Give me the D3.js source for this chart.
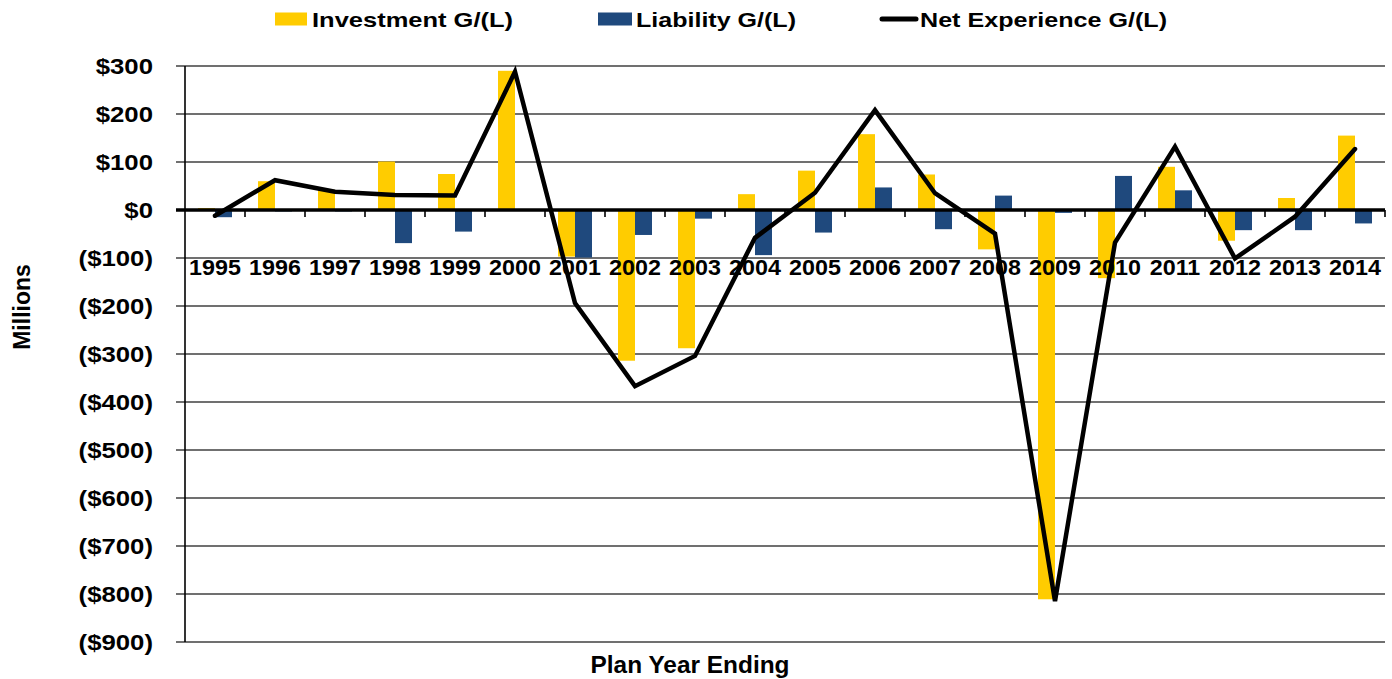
<!DOCTYPE html>
<html>
<head>
<meta charset="utf-8">
<script src="https://cdn.jsdelivr.net/npm/d3@7"></script>
<style>
  body { margin: 0; background: #fff; }
  text { font-family: "Liberation Sans", Arial, sans-serif; font-weight: bold; fill: #000; }
</style>
</head>
<body>
<script>
// Plan year data, in millions
var years = ["1995", "1996", "1997", "1998", "1999", "2000", "2001", "2002", "2003", "2004",
             "2005", "2006", "2007", "2008", "2009", "2010", "2011", "2012", "2013", "2014"]
var investment = [4, 60, 42, 101, 75, 290, -97, -314, -288, 33, 82, 158, 74, -82, -811, -142, 90, -64, 25, 155]
var liability = [-15, -3, -3, -69, -45, -2, -99, -52, -18, -94, -47, 47, -40, 30, -6, 71, 41, -42, -42, -28]
var netExperience = [-12, 62, 38, 31, 30, 288, -194, -367, -304, -58, 36, 208, 35, -49, -815, -68, 132, -101, -14, 127]
var yTicks = [300, 200, 100, 0, -100, -200, -300, -400, -500, -600, -700, -800, -900]
var seriesNames = ["Investment G/(L)", "Liability G/(L)", "Net Experience G/(L)"]

var w = 1392
var h = 679
var yellow = "#FFCC00"
var blue = "#1F497D"

var svg = d3.select("body").append("svg")
  .attr("width", w)
  .attr("height", h)

// Scales
var xScale = d3.scaleBand()
  .domain(years)
  .range([185, 1385])

var barScale = d3.scaleBand()
  .domain(["inv", "liab"])
  .range([0, 34])

var yScale = d3.scaleLinear()
  .domain([-900, 300])
  .range([642, 66])

function money(d) {
  if (d < 0) return "($" + Math.abs(d) + ")"
  return "$" + d
}

// Gridlines with little ticks left of the axis
svg.append("g")
  .selectAll("line")
  .data(yTicks.filter(function(d) { return d != 0 }))
  .enter()
  .append("line")
  .attr("x1", 176)
  .attr("x2", 1385)
  .attr("y1", function(d) { return yScale(d) })
  .attr("y2", function(d) { return yScale(d) })
  .attr("stroke", "#404040")
  .attr("stroke-width", 1.3)

// Y tick labels
svg.append("g")
  .selectAll("text")
  .data(yTicks)
  .enter()
  .append("text")
  .attr("text-anchor", "end")
  .attr("dy", "0.36em")
  .attr("transform", function(d) { return "translate(153," + yScale(d) + ") scale(1.12,1)" })
  .style("font-size", "23px")
  .text(money)

// Bars
var halfBand = xScale.bandwidth() / 2
svg.append("g")
  .selectAll("rect")
  .data(investment)
  .enter()
  .append("rect")
  .attr("x", function(d, i) { return xScale(years[i]) + halfBand - 17 + barScale("inv") })
  .attr("width", barScale.bandwidth())
  .attr("y", function(d) { return yScale(Math.max(0, d)) })
  .attr("height", function(d) { return Math.abs(yScale(d) - yScale(0)) })
  .attr("fill", yellow)

svg.append("g")
  .selectAll("rect")
  .data(liability)
  .enter()
  .append("rect")
  .attr("x", function(d, i) { return xScale(years[i]) + halfBand - 17 + barScale("liab") })
  .attr("width", barScale.bandwidth())
  .attr("y", function(d) { return yScale(Math.max(0, d)) })
  .attr("height", function(d) { return Math.abs(yScale(d) - yScale(0)) })
  .attr("fill", blue)

// Y axis line
svg.append("line")
  .attr("x1", 185).attr("x2", 185)
  .attr("y1", yScale(300)).attr("y2", yScale(-900))
  .attr("stroke", "#000")
  .attr("stroke-width", 1.6)

// Zero line with category ticks
svg.append("line")
  .attr("x1", 176).attr("x2", 1385)
  .attr("y1", yScale(0)).attr("y2", yScale(0))
  .attr("stroke", "#000")
  .attr("stroke-width", 3.5)

svg.append("g")
  .selectAll("line")
  .data(years)
  .enter()
  .append("line")
  .attr("x1", function(d) { return xScale(d) + xScale.bandwidth() })
  .attr("x2", function(d) { return xScale(d) + xScale.bandwidth() })
  .attr("y1", yScale(0))
  .attr("y2", yScale(0) + 7)
  .attr("stroke", "#000")
  .attr("stroke-width", 1.6)

// Year labels
svg.append("g")
  .selectAll("text")
  .data(years)
  .enter()
  .append("text")
  .attr("text-anchor", "middle")
  .attr("transform", function(d) { return "translate(" + (xScale(d) + halfBand) + ",275) scale(1.06,1)" })
  .style("font-size", "22px")
  .text(function(d) { return d })

// Net experience line
var line = d3.line()
  .x(function(d, i) { return xScale(years[i]) + halfBand })
  .y(function(d) { return yScale(d) })

svg.append("path")
  .datum(netExperience)
  .attr("d", line)
  .attr("fill", "none")
  .attr("stroke", "#000")
  .attr("stroke-width", 4.5)
  .attr("stroke-linejoin", "miter")
  .attr("stroke-linecap", "round")

// Legend
var legend = svg.append("g")
legend.append("rect").attr("x", 275).attr("y", 12.5).attr("width", 32).attr("height", 13).attr("fill", yellow)
legend.append("text").attr("x", 312).attr("y", 26.5).attr("textLength", 201).attr("lengthAdjust", "spacingAndGlyphs")
  .style("font-size", "21px").text(seriesNames[0])
legend.append("rect").attr("x", 598).attr("y", 12.5).attr("width", 34).attr("height", 13).attr("fill", blue)
legend.append("text").attr("x", 636).attr("y", 26.5).attr("textLength", 160).attr("lengthAdjust", "spacingAndGlyphs")
  .style("font-size", "21px").text(seriesNames[1])
legend.append("line").attr("x1", 882).attr("x2", 916).attr("y1", 19).attr("y2", 19)
  .attr("stroke", "#000").attr("stroke-width", 5).attr("stroke-linecap", "round")
legend.append("text").attr("x", 920).attr("y", 26.5).attr("textLength", 247).attr("lengthAdjust", "spacingAndGlyphs")
  .style("font-size", "21px").text(seriesNames[2])

// Axis titles
svg.append("text")
  .attr("x", 690)
  .attr("y", 673)
  .attr("text-anchor", "middle")
  .attr("textLength", 199)
  .attr("lengthAdjust", "spacingAndGlyphs")
  .style("font-size", "23px")
  .text("Plan Year Ending")

svg.append("text")
  .attr("transform", "translate(30,307) rotate(-90)")
  .attr("text-anchor", "middle")
  .style("font-size", "23px")
  .text("Millions")
</script>
</body>
</html>
